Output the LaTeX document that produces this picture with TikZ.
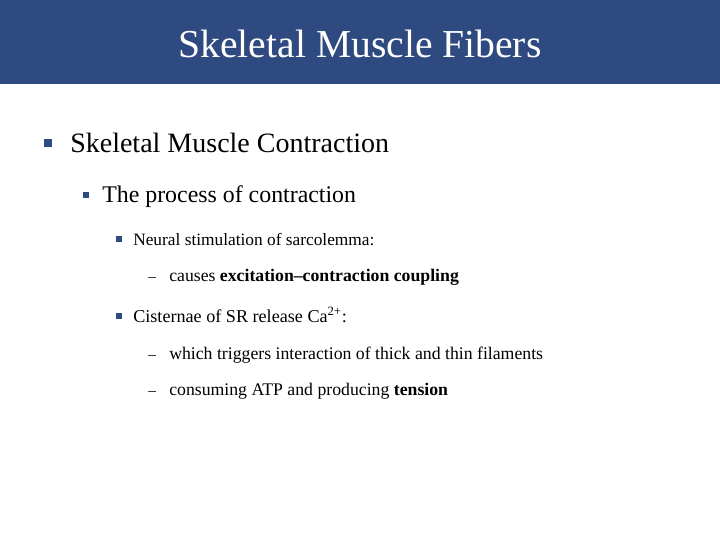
\documentclass[tikz,border=0pt]{standalone}
\usepackage{fontspec}
\setmainfont{Liberation Serif}
\begin{document}
\begin{tikzpicture}[x=0.75pt,y=-0.75pt,
  bul/.style={fill=bar,minimum size=#1,inner sep=0pt},
  txt/.style={anchor=base west,inner sep=0pt}]
\definecolor{bar}{HTML}{2F4A80}
\useasboundingbox (0,0) rectangle (720,540);
\fill[bar] (0,0) rectangle (720,84);
\node[text=white,font=\fontsize{29.7}{32}\selectfont,anchor=base,inner sep=0pt] (title) at (360,57) {Skeletal Muscle Fibers};
\node[bul=6pt] (b1) at (48,143) {};
\node[txt,font=\fontsize{21}{24}\selectfont] (t1) at (70,152) {Skeletal Muscle Contraction};
\node[bul=5pt] (b2) at (86,195) {};
\node[txt,font=\fontsize{17.9}{20}\selectfont] (t2) at (102,202) {The process of contraction};
\node[bul=4pt] (b3) at (119,239) {};
\node[txt,font=\fontsize{13}{15}\selectfont] (t3) at (133,245) {Neural stimulation of sarcolemma:};
\node[txt,font=\fontsize{11.5}{14}\selectfont] (d4) at (148,281) {--};
\node[txt,font=\fontsize{13.3}{15}\selectfont] (t4) at (169,281) {causes \textbf{excitation--contraction coupling}};
\node[bul=4pt] (b5) at (119,316) {};
\node[txt,font=\fontsize{13.6}{15}\selectfont] (t5) at (133,322) {Cisternae of SR release Ca\textsuperscript{2+}:};
\node[txt,font=\fontsize{11.5}{14}\selectfont] (d6) at (148,359) {--};
\node[txt,font=\fontsize{13.3}{14}\selectfont] (t6) at (169,359) {which triggers interaction of thick and thin filaments};
\node[txt,font=\fontsize{11.5}{14}\selectfont] (d7) at (148,395) {--};
\node[txt,font=\fontsize{13.3}{14}\selectfont] (t7) at (169,395) {consuming ATP and producing \textbf{tension}};
\end{tikzpicture}
\end{document}
